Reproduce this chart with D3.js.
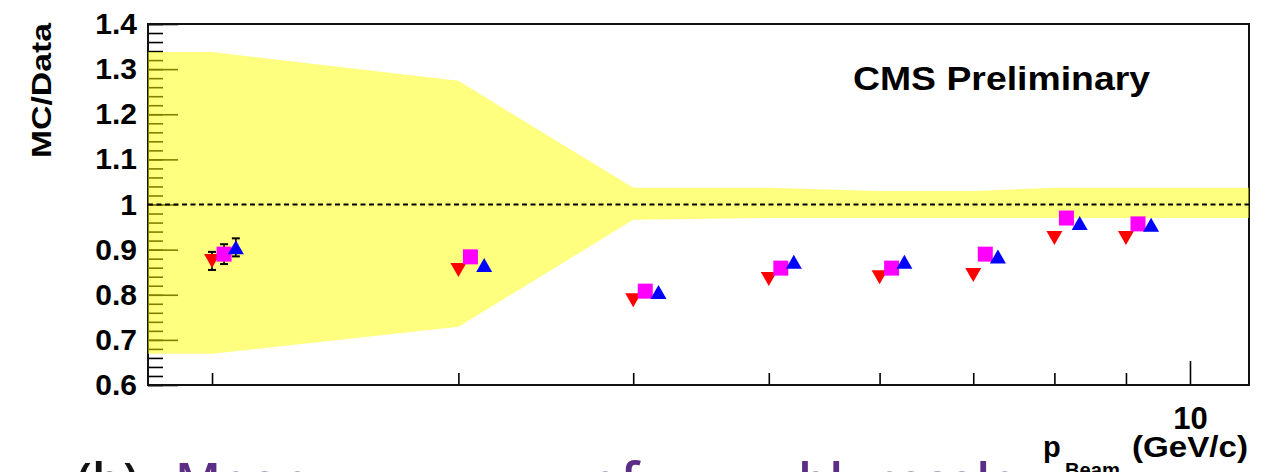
<!DOCTYPE html>
<html>
<head>
<meta charset="utf-8">
<script src="https://cdn.jsdelivr.net/npm/d3@7"></script>
<style>
  body { margin: 0; background: #fff; }
  svg { display: block; }
  .root text { font-family: "Liberation Sans", Arial, Helvetica, sans-serif; font-weight: bold; }
</style>
</head>
<body>
<div id="chart"></div>
<script>
// beam momentum points (GeV/c), each series slightly shifted so the markers don't sit on top of each other
const pRed = [2, 3, 4, 5, 6, 7, 8, 9];
const pMagenta = [2.04, 3.06, 4.08, 5.1, 6.12, 7.14, 8.16, 9.18];
const pBlue = [2.08, 3.13, 4.17, 5.21, 6.25, 7.29, 8.34, 9.38];

const redVals = [0.875, 0.855, 0.788, 0.835, 0.839, 0.844, 0.926, 0.926];
const redErr = [0.02, 0, 0, 0, 0, 0, 0, 0];
const magentaVals = [0.89, 0.884, 0.808, 0.859, 0.859, 0.89, 0.97, 0.957];
const magentaErr = [0.022, 0, 0, 0, 0, 0, 0, 0];
const blueVals = [0.905, 0.866, 0.806, 0.873, 0.873, 0.885, 0.959, 0.955];
const blueErr = [0.02, 0, 0, 0, 0, 0, 0, 0];

// systematic band
const bandP = [1.8, 2, 3, 4, 5, 6, 7, 8, 9, 11.02];
const bandHi = [1.338, 1.338, 1.274, 1.037, 1.037, 1.03, 1.03, 1.037, 1.037, 1.037];
const bandLo = [0.669, 0.669, 0.729, 0.966, 0.97, 0.97, 0.97, 0.97, 0.97, 0.97];

const yMajor = [0.6, 0.7, 0.8, 0.9, 1.0, 1.1, 1.2, 1.3, 1.4];
const yLabels = ["0.6", "0.7", "0.8", "0.9", "1", "1.1", "1.2", "1.3", "1.4"];
const xMinor = [2, 3, 4, 5, 6, 7, 8, 9];
const xMajor = [10];
const xLabels = ["10"];

const size = { width: 1271, height: 472 };
const frame = { left: 148, right: 1249, top: 24, bottom: 385 };

const svg = d3
  .select("#chart")
  .append("svg")
  .attr("class", "root")
  .attr("width", size.width)
  .attr("height", size.height);

const x = d3
  .scaleLog()
  .domain([1.8, 11.02])
  .range([frame.left, frame.right]);

const y = d3
  .scaleLinear()
  .domain([0.6, 1.4])
  .range([frame.bottom, frame.top]);

// y axis: big ticks every 0.1, small every 0.02, all pointing inside
const yMinorAxis = svg
  .append("g")
  .attr("transform", `translate(${frame.left},0)`)
  .call(d3.axisLeft(y).tickValues(y.ticks(40)).tickSize(-15).tickFormat(""));
const yAxis = svg
  .append("g")
  .attr("transform", `translate(${frame.left},0)`)
  .call(
    d3
      .axisLeft(y)
      .tickValues(yMajor)
      .tickSize(-30)
      .tickPadding(11)
      .tickFormat((d, i) => yLabels[i])
  );
[yMinorAxis, yAxis].forEach((g) => {
  g.select(".domain").remove();
  g.selectAll("line").attr("stroke", "#000").attr("stroke-width", 1.6);
});
yAxis.selectAll("text").style("font-size", "30px").attr("fill", "#000");

// x axis (log)
const xMinorAxis = svg
  .append("g")
  .attr("transform", `translate(0,${frame.bottom})`)
  .call(d3.axisBottom(x).tickValues(xMinor).tickSize(-12).tickFormat(""));
const xAxis = svg
  .append("g")
  .attr("transform", `translate(0,${frame.bottom})`)
  .call(
    d3
      .axisBottom(x)
      .tickValues(xMajor)
      .tickSize(-24)
      .tickPadding(22)
      .tickFormat((d, i) => xLabels[i])
  );
[xMinorAxis, xAxis].forEach((g) => {
  g.select(".domain").remove();
  g.selectAll("line").attr("stroke", "#000").attr("stroke-width", 1.6);
});
xAxis.selectAll("text").style("font-size", "31px").attr("fill", "#000");

svg
  .append("rect")
  .attr("x", frame.left)
  .attr("y", frame.top)
  .attr("width", frame.right - frame.left)
  .attr("height", frame.bottom - frame.top)
  .attr("fill", "none")
  .attr("stroke", "#111")
  .attr("stroke-width", 2);

// band goes over the axis, half transparent like in the original
const band = d3
  .area()
  .x((d) => x(d.p))
  .y0((d) => y(d.lo))
  .y1((d) => y(d.hi));

svg
  .append("path")
  .datum(bandP.map((p, i) => ({ p, hi: bandHi[i], lo: bandLo[i] })))
  .attr("d", band)
  .attr("fill", "#ffff00")
  .attr("fill-opacity", 0.5);

svg
  .append("line")
  .attr("x1", frame.left)
  .attr("x2", frame.right)
  .attr("y1", y(1))
  .attr("y2", y(1))
  .attr("stroke", "#000")
  .attr("stroke-width", 2)
  .attr("stroke-dasharray", "5,3.5");

const series = [
  { name: "red", p: pRed, v: redVals, e: redErr, color: "#ff0000", shape: "down" },
  { name: "magenta", p: pMagenta, v: magentaVals, e: magentaErr, color: "#ff00ff", shape: "square" },
  { name: "blue", p: pBlue, v: blueVals, e: blueErr, color: "#0000ff", shape: "up" },
];

const markerPath = (shape) => {
  const s = 16;
  const h = 14;
  const q = 15;
  if (shape === "square") return `M${-q / 2},${-q / 2}h${q}v${q}h${-q}Z`;
  if (shape === "up") return `M0,${-h / 2}L${s / 2},${h / 2}L${-s / 2},${h / 2}Z`;
  return `M0,${h / 2}L${s / 2},${-h / 2}L${-s / 2},${-h / 2}Z`;
};

// error bars first, markers on top
const errG = svg.append("g").attr("stroke", "#000").attr("stroke-width", 1.6);
series.forEach((s) => {
  s.p.forEach((p, i) => {
    if (!s.e[i]) return;
    const cx = x(p);
    const top = y(s.v[i] + s.e[i]);
    const bot = y(s.v[i] - s.e[i]);
    errG.append("line").attr("x1", cx).attr("x2", cx).attr("y1", top).attr("y2", bot);
    errG.append("line").attr("x1", cx - 4).attr("x2", cx + 4).attr("y1", top).attr("y2", top).attr("stroke-width", 2);
    errG.append("line").attr("x1", cx - 4).attr("x2", cx + 4).attr("y1", bot).attr("y2", bot).attr("stroke-width", 2);
  });
});

series.forEach((s) => {
  svg
    .append("g")
    .attr("class", "series-" + s.name)
    .selectAll("path")
    .data(s.p.map((p, i) => ({ p, v: s.v[i] })))
    .enter()
    .append("path")
    .attr("transform", (d) => `translate(${x(d.p)},${y(d.v)})`)
    .attr("d", markerPath(s.shape))
    .attr("fill", s.color);
});

// texts
svg
  .append("text")
  .attr("x", 853)
  .attr("y", 90)
  .attr("textLength", 297)
  .attr("lengthAdjust", "spacingAndGlyphs")
  .style("font-size", "34px")
  .text("CMS Preliminary");

svg
  .append("text")
  .attr("transform", "translate(51,23) rotate(-90)")
  .attr("text-anchor", "end")
  .attr("textLength", 135)
  .attr("lengthAdjust", "spacingAndGlyphs")
  .style("font-size", "27px")
  .text("MC/Data");

const xTitle = svg.append("g");
xTitle.append("text").attr("x", 1043).attr("y", 457).style("font-size", "29px").text("p");
xTitle
  .append("text")
  .attr("x", 1065)
  .attr("y", 477)
  .attr("textLength", 55)
  .attr("lengthAdjust", "spacingAndGlyphs")
  .style("font-size", "20px")
  .text("Beam");
xTitle
  .append("text")
  .attr("x", 1132)
  .attr("y", 457)
  .attr("textLength", 116)
  .attr("lengthAdjust", "spacingAndGlyphs")
  .style("font-size", "29px")
  .text("(GeV/c)");

// caption of the figure underneath, only the tops of its letters are inside the window
const caption = svg
  .append("text")
  .attr("y", 499)
  .style("font-family", "'Open Sans', sans-serif")
  .style("font-weight", "600")
  .style("font-size", "50px");
caption.append("tspan").attr("x", 76).attr("fill", "#111").text("(b)");
caption.append("tspan").attr("x", 175).attr("fill", "#5b2d84").text("Mean");
caption.append("tspan").attr("x", 590).attr("fill", "#5b2d84").text("of");
caption.append("tspan").attr("x", 798).attr("fill", "#5b2d84").text("blue");
caption.append("tspan").attr("x", 898).attr("fill", "#5b2d84").text("scale");
</script>
</body>
</html>
